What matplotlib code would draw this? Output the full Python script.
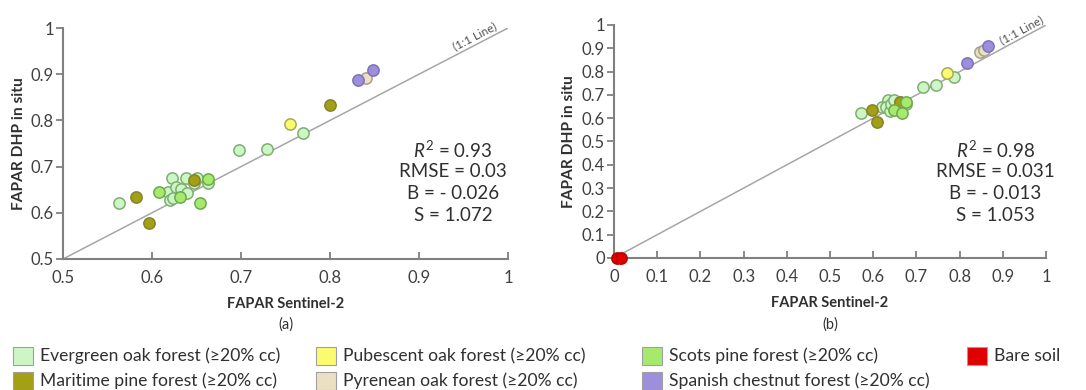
import numpy as np
import matplotlib
matplotlib.use("Agg")
import matplotlib.pyplot as plt
from matplotlib.patches import Rectangle
from matplotlib.ticker import FuncFormatter

plt.rcParams['font.family'] = ['Lato', 'DejaVu Sans']
plt.rcParams['mathtext.fontset'] = 'custom'
plt.rcParams['mathtext.rm'] = 'Lato'
plt.rcParams['mathtext.it'] = 'Lato:italic'

# forest types, legend order
types = ["Evergreen oak forest (≥20% cc)", "Maritime pine forest (≥20% cc)",
         "Pubescent oak forest (≥20% cc)", "Pyrenean oak forest (≥20% cc)",
         "Scots pine forest (≥20% cc)", "Spanish chestnut forest (≥20% cc)",
         "Bare soil"]
fills = ["#cdf5c6", "#a39f16", "#fbfb6e", "#ece0c2", "#a6ea6c", "#9d8fdc", "#e00000"]
edges = ["#7fae72", "#86842a", "#a8a860", "#a8a088", "#6ea850", "#7e72b8", "#c00000"]

# (a) forest plots only
a_sentinel = [0.563, 0.618, 0.622, 0.620, 0.624, 0.627, 0.633, 0.638, 0.639, 0.647, 0.651, 0.663, 0.698, 0.729, 0.770,
              0.582, 0.597, 0.647, 0.800,
              0.755,
              0.840,
              0.608, 0.632, 0.654, 0.663,
              0.831, 0.848]
a_dhp = [0.621, 0.645, 0.676, 0.627, 0.631, 0.656, 0.652, 0.676, 0.642, 0.665, 0.676, 0.665, 0.735, 0.738, 0.773,
         0.634, 0.579, 0.672, 0.834,
         0.793,
         0.892,
         0.645, 0.634, 0.621, 0.673,
         0.887, 0.909]
a_type = [0] * 15 + [1] * 4 + [2] + [3] + [4] * 4 + [5] * 2

# (b) forest plots plus bare soil
b_sentinel = [0.572, 0.620, 0.634, 0.630, 0.638, 0.642, 0.649, 0.661, 0.676, 0.715, 0.746, 0.788,
              0.596, 0.609, 0.661,
              0.770,
              0.847, 0.857,
              0.647, 0.667, 0.676,
              0.816, 0.865,
              0.008, 0.015]
b_dhp = [0.623, 0.646, 0.678, 0.646, 0.630, 0.660, 0.678, 0.670, 0.663, 0.735, 0.741, 0.775,
         0.635, 0.582, 0.670,
         0.792,
         0.885, 0.893,
         0.635, 0.623, 0.670,
         0.835, 0.910,
         0.0, 0.0]
b_type = [0] * 12 + [1] * 3 + [2] + [3] * 2 + [4] * 3 + [5] * 2 + [6] * 2

stats_a = ["$\\mathit{R}^2$ = 0.93", "RMSE = 0.03", "B = - 0.026", "S = 1.072"]
stats_b = ["$\\mathit{R}^2$ = 0.98", "RMSE = 0.031", "B = - 0.013", "S = 1.053"]

W, H = 1086, 390
fig = plt.figure(figsize=(W / 100, H / 100), dpi=100)
ax_a = fig.add_axes([0.0580, 0.3359, 0.4098, 0.5923])
ax_b = fig.add_axes([0.5654, 0.3385, 0.3978, 0.5974])

fmt = FuncFormatter(lambda v, p: f"{v:g}")


def draw_panel(ax, xs, ys, ts, lo, stats, tag, stat_pos, lab_x, one_pos):
    xs = np.array(xs)
    ys = np.array(ys)
    ts = np.array(ts)
    ax.plot([lo, 1], [lo, 1], color="#a6a6a6", lw=1.1, zorder=1)
    for k in range(len(types)):
        m = ts == k
        if m.any():
            ax.scatter(xs[m], ys[m], s=66, c=fills[k], edgecolors=edges[k],
                       linewidths=1.1, zorder=3 + k, clip_on=False)
    ax.set_xlim(lo, 1)
    ax.set_ylim(lo, 1)
    ticks = np.round(np.arange(lo, 1.0001, 0.1), 1)
    ax.set_xticks(ticks)
    ax.set_yticks(ticks)
    ax.xaxis.set_major_formatter(fmt)
    ax.yaxis.set_major_formatter(fmt)
    for s in ["top", "right"]:
        ax.spines[s].set_visible(False)
    for s in ["left", "bottom"]:
        ax.spines[s].set_color("#808080")
        ax.spines[s].set_linewidth(1.5)
    ax.tick_params(axis="x", direction="in", length=5, width=1.3, color="#808080",
                   labelsize=12, labelcolor="#404040", pad=8)
    ax.tick_params(axis="y", direction="out", length=5, width=1.3, color="#808080",
                   labelsize=12, labelcolor="#404040", pad=1.5)
    ax.text(0.5, -0.195, "FAPAR Sentinel-2", transform=ax.transAxes, ha="center", va="center",
            fontsize=10.5, fontweight="bold", color="#303030")
    ax.text(0.5, -0.285, tag, transform=ax.transAxes, ha="center", va="center",
            fontsize=10.5, color="#303030")
    ax.text(lab_x, 0.5, "FAPAR DHP in situ", transform=ax.transAxes, ha="center", va="center",
            rotation=90, fontsize=11.2, fontweight="bold", color="#303030")
    sx, sy = stat_pos
    for i, line in enumerate(stats):
        ax.text(sx, sy - i * 0.094, line, transform=ax.transAxes, ha="center", va="center",
                fontsize=13.5, color="#303030")
    ax.text(one_pos[0], one_pos[1], "(1:1 Line)", rotation=45, transform_rotates_text=True,
            rotation_mode="anchor", ha="center", va="bottom", fontsize=8.5, color="#505050")


draw_panel(ax_a, a_sentinel, a_dhp, a_type, 0.5, stats_a, "(a)", (0.876, 0.472), -0.099, (0.966, 0.972))
draw_panel(ax_b, b_sentinel, b_dhp, b_type, 0.0, stats_b, "(b)", (0.882, 0.464), -0.104, (0.950, 0.958))

# legend laid out in pixel columns: (left of swatch, row)
leg_cols = [13, 316, 642, 967]
leg_rows = [356, 381]
leg_slots = [(0, 0), (0, 1), (1, 0), (1, 1), (2, 0), (2, 1), (3, 0)]
for k, (c, r) in enumerate(leg_slots):
    x0 = leg_cols[c]
    yc = leg_rows[r]
    fig.patches.append(Rectangle((x0 / W, (H - yc - 9) / H), 20 / W, 18 / H,
                                 transform=fig.transFigure, facecolor=fills[k],
                                 edgecolor="#a0a0a0", linewidth=0.8))
    fig.text((x0 + 27) / W, (H - yc) / H, types[k], ha="left", va="center",
             fontsize=12.6, color="#303030")

fig.savefig("out.png", dpi=100)
